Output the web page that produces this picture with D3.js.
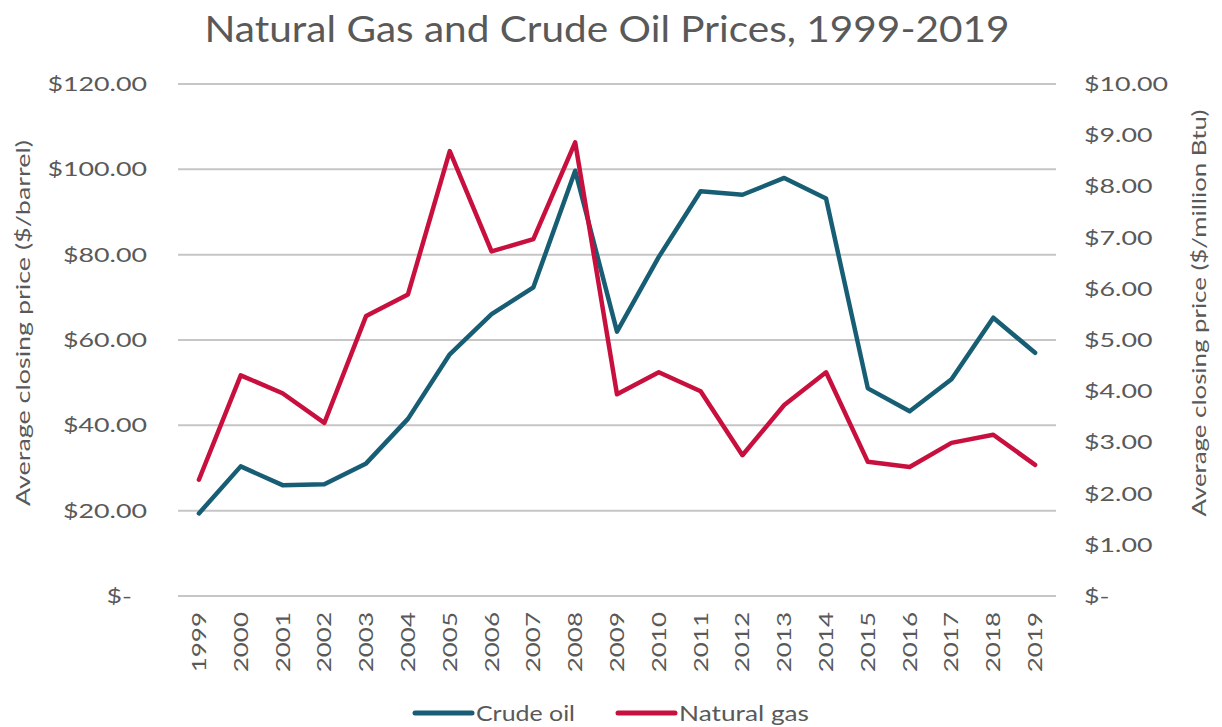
<!DOCTYPE html>
<html><head><meta charset="utf-8">
<script src="https://cdn.jsdelivr.net/npm/d3@7"></script>
<style>body{margin:0;background:#fff}svg{display:block}text{font-family:"Lato","Noto Sans",sans-serif;fill:#595959}</style>
</head><body>
<script>
const years = ["1999","2000","2001","2002","2003","2004","2005","2006","2007","2008","2009","2010","2011","2012","2013","2014","2015","2016","2017","2018","2019"];
const crudeOil = [19.35,30.38,25.98,26.19,31.08,41.51,56.64,66.05,72.34,99.67,61.95,79.48,94.88,94.05,97.98,93.17,48.66,43.29,50.80,65.23,56.99];
const naturalGas = [2.27,4.31,3.96,3.38,5.47,5.89,8.69,6.73,6.97,8.86,3.94,4.37,4.00,2.75,3.73,4.37,2.62,2.52,2.99,3.15,2.56];
const leftTicks = [0,20,40,60,80,100,120];
const rightTicks = [0,1,2,3,4,5,6,7,8,9,10];
const seriesNames = ["Crude oil","Natural gas"];
const colors = ["#175E74","#C8103E"];

const W=1222,H=727;
const m={l:178,r:1056,t:84,b:596};
const svg=d3.select("body").append("svg").attr("width",W).attr("height",H);
const x=d3.scaleBand().domain(years).range([m.l,m.r]);
const yL=d3.scaleLinear().domain([0,120]).range([m.b,m.t]);
const yR=d3.scaleLinear().domain([0,10]).range([m.b,m.t]);

function stretch(sel,k){
  sel.each(function(){const L=this.getComputedTextLength();d3.select(this).attr("textLength",L*k).attr("lengthAdjust","spacingAndGlyphs");});
}
function fitTo(sel,len){sel.attr("textLength",len).attr("lengthAdjust","spacingAndGlyphs");}

const title=svg.append("text").attr("x",607).attr("y",42).attr("text-anchor","middle").style("font-size","36px").text("Natural Gas and Crude Oil Prices, 1999-2019");
fitTo(title,805);

// gridlines
svg.append("g").selectAll("line").data(leftTicks).join("line")
 .attr("x1",m.l).attr("x2",m.r).attr("y1",d=>yL(d)).attr("y2",d=>yL(d))
 .attr("stroke","#c6c6c6").attr("stroke-width",2);

const fmtL=d=>d===0?"$-":"$"+d.toFixed(2);
const gl=svg.append("g").attr("transform",`translate(${m.l},0)`)
 .call(d3.axisLeft(yL).tickValues(leftTicks).tickFormat(fmtL).tickSize(0).tickPadding(31));
gl.select(".domain").remove();
gl.selectAll("text").style("font-size","20px").style("font-family","Lato").attr("fill","#595959")
 .attr("dx",d=>d===0?-15:0);
stretch(gl.selectAll("text"),1.34);

const fmtR=d=>d===0?"$-":"$"+d.toFixed(2);
const gr=svg.append("g").attr("transform",`translate(${m.r},0)`)
 .call(d3.axisRight(yR).tickValues(rightTicks).tickFormat(fmtR).tickSize(0).tickPadding(28));
gr.select(".domain").remove();
gr.selectAll("text").style("font-size","20px").style("font-family","Lato").attr("fill","#595959");
stretch(gr.selectAll("text"),1.34);

const gx=svg.append("g").attr("transform",`translate(0,${m.b})`)
 .call(d3.axisBottom(x).tickSize(0).tickPadding(0));
gx.select(".domain").remove();
gx.selectAll("text").style("font-size","20px").style("font-family","Lato").attr("fill","#595959")
 .attr("transform","rotate(-90)").attr("text-anchor","end").attr("x",-16).attr("y",0).attr("dy","0.35em");
stretch(gx.selectAll("text"),1.3);

const tl=svg.append("text").attr("transform",`translate(30,323) rotate(-90)`).attr("text-anchor","middle")
 .style("font-size","20px").text("Average closing price ($/barrel)");
fitTo(tl,366);
const tr=svg.append("text").attr("transform",`translate(1206,313) rotate(-90)`).attr("text-anchor","middle")
 .style("font-size","20px").text("Average closing price ($/million  Btu)");
fitTo(tr,407);

const lineL=d3.line().x((d,i)=>x(years[i])+x.bandwidth()/2).y(d=>yL(d));
const lineR=d3.line().x((d,i)=>x(years[i])+x.bandwidth()/2).y(d=>yR(d));
svg.append("path").datum(crudeOil).attr("d",lineL).attr("fill","none").attr("stroke",colors[0]).attr("stroke-width",4.5).attr("stroke-linejoin","round").attr("stroke-linecap","round");
svg.append("path").datum(naturalGas).attr("d",lineR).attr("fill","none").attr("stroke",colors[1]).attr("stroke-width",4.5).attr("stroke-linejoin","round").attr("stroke-linecap","round");

// legend
const leg=[{x:415,name:seriesNames[0],c:colors[0],w:99},{x:618,name:seriesNames[1],c:colors[1],w:130}];
const lg=svg.append("g");
leg.forEach(l=>{
 lg.append("line").attr("x1",l.x).attr("x2",l.x+57).attr("y1",713).attr("y2",713).attr("stroke",l.c).attr("stroke-width",5).attr("stroke-linecap","round");
 const t=lg.append("text").attr("x",l.x+61).attr("y",713).attr("dy","0.35em").style("font-size","22px").text(l.name);
 fitTo(t,l.w);
});
</script>
</body></html>
